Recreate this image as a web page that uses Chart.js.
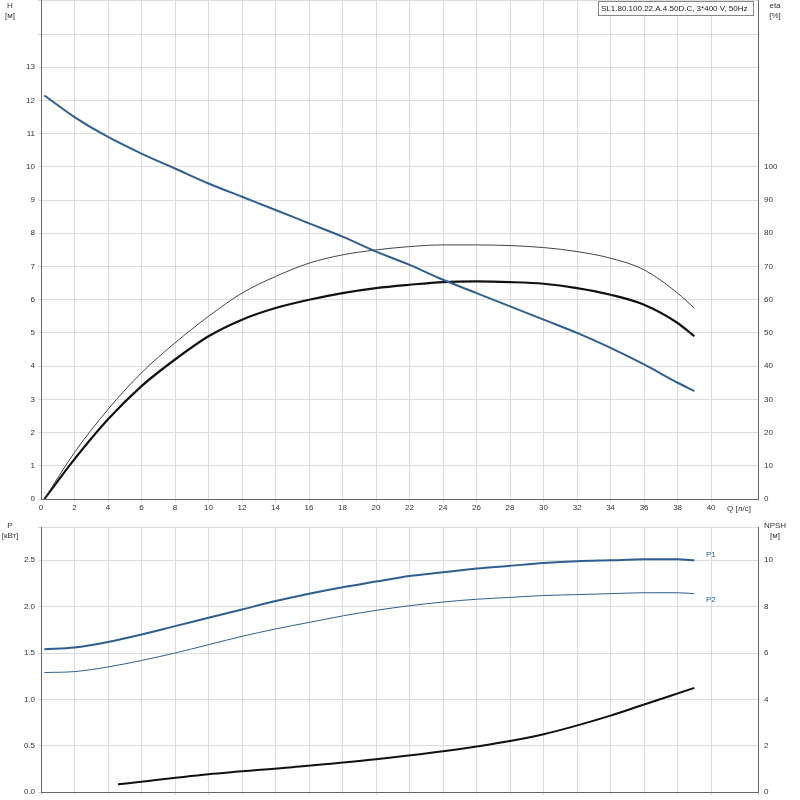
<!DOCTYPE html>
<html><head><meta charset="utf-8">
<script src="https://cdn.jsdelivr.net/npm/chart.js@4"></script>
<style>
body{margin:0;background:#fff;width:800px;height:800px;position:relative;overflow:hidden}
canvas{position:absolute;left:0}
#top{top:-7px}#bot{top:520px}
</style></head><body>
<canvas id="top" width="800" height="523"></canvas>
<canvas id="bot" width="800" height="280"></canvas>
<script>
const qVals = [0, 2, 4, 6, 8, 10, 12, 14, 16, 18, 20, 22, 24, 26, 28, 30, 32, 34, 36, 38, 39];
const headVals = [12.15, 11.5, 10.9, 10.4, 9.95, 9.5, 9.1, 8.7, 8.3, 7.9, 7.45, 7.05, 6.6, 6.2, 5.8, 5.4, 5.0, 4.55, 4.05, 3.5, 3.25];
const etaPump = [0, 14, 27, 38, 47, 55, 62, 67, 71, 73.5, 75, 76, 76.5, 76.5, 76.3, 75.7, 74.5, 72.5, 69, 62, 57.5];
const etaTotal = [0, 12, 24, 34, 42, 49, 54, 57.5, 60, 62, 63.5, 64.5, 65.3, 65.5, 65.3, 64.8, 63.5, 61.5, 58.5, 53, 49];
const p1Vals = [1.54, 1.56, 1.62, 1.7, 1.79, 1.88, 1.97, 2.06, 2.14, 2.21, 2.27, 2.33, 2.37, 2.41, 2.44, 2.47, 2.49, 2.5, 2.51, 2.51, 2.5];
const p2Vals = [1.29, 1.3, 1.35, 1.42, 1.5, 1.59, 1.68, 1.76, 1.83, 1.9, 1.96, 2.01, 2.05, 2.08, 2.1, 2.12, 2.13, 2.14, 2.15, 2.15, 2.14];
const npshQ = [4.6, 10, 15, 20, 26, 30, 34, 36, 39];
const npshVals = [0.34, 0.77, 1.08, 1.42, 1.97, 2.5, 3.3, 3.78, 4.5];

const FONT = { family: "Liberation Sans", size: 8 };
const BLUE = "#2f5f8f";
const GRID = "#dcdcdc";
const pts = (xs, ys) => xs.map((x, i) => ({ x: x === 0 ? 0.2 : x, y: ys[i] }));

function fix(w) { return (s) => { s.width = w; }; }

const xScale = (showLabels, h) => ({
  type: "linear", min: 0, max: 42.8,
  ticks: { stepSize: 2, display: showLabels, font: FONT, color: "#333", maxRotation: 0, padding: 1,
    callback: (v) => (v <= 40 ? v : "") },
  grid: { color: GRID, drawTicks: true, tickLength: 3 },
  border: { color: "#666" },
  afterFit: (s) => { s.height = h; },
});

const textPlugin = (items) => ({
  id: "texts",
  afterDraw(c) {
    const ctx = c.ctx;
    ctx.save();
    ctx.font = "8px 'Liberation Sans'";
    items.forEach(([t, x, y, col, align]) => {
      ctx.fillStyle = col || "#333";
      ctx.textAlign = align || "center";
      ctx.fillText(t, x, y);
    });
    ctx.restore();
  },
});

const boxPlugin = {
  id: "box",
  afterDraw(c) {
    const ctx = c.ctx;
    ctx.save();
    ctx.fillStyle = "#fff";
    ctx.strokeStyle = "#888";
    ctx.fillRect(598, 8, 155, 14);
    ctx.strokeRect(598.5, 8.5, 155, 14);
    ctx.fillStyle = "#222";
    ctx.font = "8px 'Liberation Sans'";
    ctx.textAlign = "left";
    ctx.fillText("SL1.80.100.22.A.4.50D.C, 3*400 V, 50Hz", 601, 18);
    ctx.restore();
  },
};

const lineEl = { point: { radius: 0 }, line: { cubicInterpolationMode: "monotone" } };

new Chart(document.getElementById("top"), {
  type: "line",
  data: {
    datasets: [
      { data: pts(qVals, headVals), borderColor: BLUE, borderWidth: 2, yAxisID: "y" },
      { data: pts(qVals, etaPump), borderColor: "#444", borderWidth: 1, yAxisID: "y2" },
      { data: pts(qVals, etaTotal), borderColor: "#111", borderWidth: 2.2, yAxisID: "y2" },
    ],
  },
  options: {
    responsive: false, animation: false,
    elements: lineEl,
    plugins: { legend: { display: false }, tooltip: { enabled: false } },
    scales: {
      x: xScale(true, 17),
      y: { min: 0, max: 15, position: "left",
        ticks: { stepSize: 1, font: FONT, color: "#333", callback: (v) => (v <= 13 ? v : "") },
        grid: { color: GRID, tickLength: 3 }, border: { color: "#666" }, afterFit: fix(41) },
      y2: { min: 0, max: 150, position: "right",
        ticks: { stepSize: 10, font: FONT, color: "#333", callback: (v) => (v <= 100 ? v : "") },
        grid: { display: false, tickLength: 3 }, border: { color: "#666" }, afterFit: fix(42) },
    },
  },
  plugins: [boxPlugin, textPlugin([
    ["H", 10, 15], ["[м]", 10, 25], ["eta", 775, 15], ["[%]", 775, 25],
    ["Q [л/с]", 739, 518],
  ])],
});

new Chart(document.getElementById("bot"), {
  type: "line",
  data: {
    datasets: [
      { data: pts(qVals, p1Vals), borderColor: BLUE, borderWidth: 2, yAxisID: "y" },
      { data: pts(qVals, p2Vals), borderColor: BLUE, borderWidth: 1, yAxisID: "y" },
      { data: npshQ.map((x, i) => ({ x, y: npshVals[i] })), borderColor: "#111", borderWidth: 2, yAxisID: "y2" },
    ],
  },
  options: {
    responsive: false, animation: false,
    layout: { padding: { top: 7 } },
    elements: lineEl,
    plugins: { legend: { display: false }, tooltip: { enabled: false } },
    scales: {
      x: xScale(false, 7),
      y: { min: 0, max: 2.85, position: "left",
        ticks: { stepSize: 0.5, font: FONT, color: "#333", callback: (v) => (v <= 2.5 ? v.toFixed(1) : "") },
        grid: { color: GRID, tickLength: 3 }, border: { color: "#666" }, afterFit: fix(41) },
      y2: { min: 0, max: 11.4, position: "right",
        ticks: { stepSize: 2, font: FONT, color: "#333", callback: (v) => (v <= 10 ? v : "") },
        grid: { display: false, tickLength: 3 }, border: { color: "#666" }, afterFit: fix(42) },
    },
  },
  plugins: [textPlugin([
    ["P", 10, 8], ["[кВт]", 10, 18], ["NPSH", 775, 8], ["[м]", 775, 18],
    ["P1", 706, 37, BLUE, "left"], ["P2", 706, 82, BLUE, "left"],
  ])],
});
</script></body></html>
